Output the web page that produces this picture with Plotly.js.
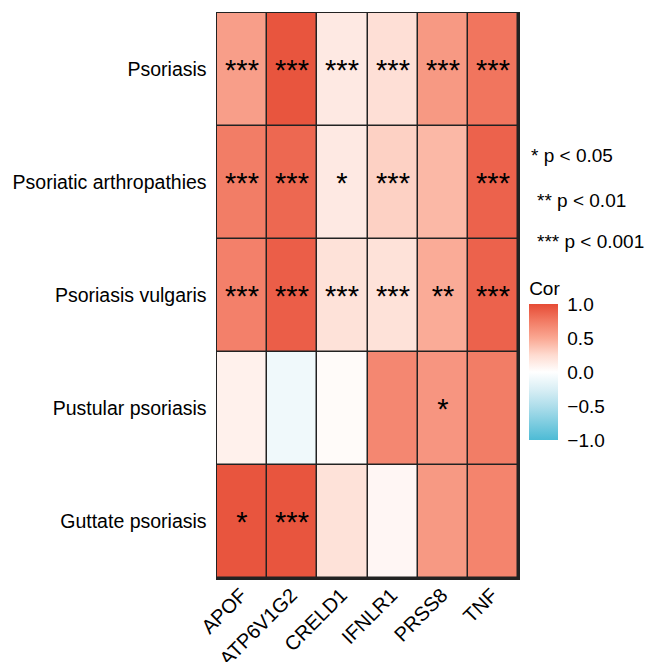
<!DOCTYPE html>
<html><head><meta charset="utf-8">
<script src="https://cdn.plot.ly/plotly-3.0.1.min.js"></script>
<style>html,body{margin:0;padding:0;background:#fff}</style>
</head><body><div id="chart" style="width:647px;height:662px"></div>
<script>
const genes = ["APOF","ATP6V1G2","CRELD1","IFNLR1","PRSS8","TNF"];
const diseases = ["Guttate psoriasis","Pustular psoriasis","Psoriasis vulgaris","Psoriatic arthropathies","Psoriasis"];
// correlation values per disease (rows, bottom to top), columns = genes
const corGuttate   = [0.95, 0.95, 0.20, 0.06, 0.58, 0.70];
const corPustular  = [0.10, -0.10, 0.03, 0.68, 0.60, 0.74];
const corVulgaris  = [0.72, 0.90, 0.20, 0.20, 0.48, 0.88];
const corArthro    = [0.74, 0.85, 0.15, 0.30, 0.42, 0.88];
const corPsoriasis = [0.55, 0.95, 0.15, 0.22, 0.58, 0.78];
const sigGuttate   = ["*","***","","","",""];
const sigPustular  = ["","","","","*",""];
const sigVulgaris  = ["***","***","***","***","**","***"];
const sigArthro    = ["***","***","*","***","","***"];
const sigPsoriasis = ["***","***","***","***","***","***"];
const cbTickVals = [1, 0.5, 0, -0.5, -1];
const cbTickText = ["1.0","0.5","0.0","\u22120.5","\u22121.0"];
const legendLines = ["* p < 0.05","** p < 0.01","*** p < 0.001"];

const z = [corGuttate, corPustular, corVulgaris, corArthro, corPsoriasis];
const txt = [sigGuttate, sigPustular, sigVulgaris, sigArthro, sigPsoriasis];
const font = "Liberation Sans, Arial, sans-serif";

const trace = {
  type: "heatmap", x: genes, y: diseases, z: z, text: txt,
  texttemplate: "%{text}", textfont: {size: 29, color: "black", family: font},
  zmin: -1, zmax: 1, xgap: 1.5, ygap: 1.5,
  colorscale: [[0, "rgb(77,187,213)"], [0.25, "rgb(175,222,235)"], [0.375, "rgb(218,239,245)"],
               [0.5, "rgb(255,255,255)"], [0.625, "rgb(254,219,208)"], [0.75, "rgb(250,167,146)"],
               [0.875, "rgb(242,123,100)"], [1, "rgb(230,75,53)"]],
  hoverinfo: "skip",
  colorbar: {
    x: 1.037, xanchor: "left", xpad: 0, ypad: 0,
    y: 0.3876, yanchor: "middle",
    thickness: 29, thicknessmode: "pixels", len: 162, lenmode: "pixels",
    outlinewidth: 0,
    tickvals: cbTickVals, ticktext: cbTickText,
    ticks: "outside", ticklen: 6, tickcolor: "rgba(0,0,0,0)", tickwidth: 1,
    tickfont: {size: 19, family: font, color: "black"},
    title: {text: "Cor", side: "top", font: {size: 19, family: font, color: "black"}}
  }
};

const annotations = legendLines.map((t, i) => ({
  text: t, xref: "paper", yref: "paper",
  x: i === 0 ? 1.035 : 1.055, xanchor: "left",
  y: [0.747, 0.669, 0.595][i], yanchor: "middle",
  showarrow: false, font: {size: 19, family: font, color: "black"}
}));

const layout = {
  width: 647, height: 662,
  margin: {l: 217, r: 129, t: 13, b: 84},
  paper_bgcolor: "white", plot_bgcolor: "#222",
  xaxis: {tickangle: -45, tickfont: {size: 20, family: font, color: "black"},
          ticklabelshift: -1, ticklabelstandoff: -4,
          showline: true, linecolor: "#222", linewidth: 1.5, mirror: true,
          ticks: "", showgrid: false, zeroline: false},
  yaxis: {tickfont: {size: 19.5, family: font, color: "black"}, ticklabelstandoff: 5,
          showline: true, linecolor: "#222", linewidth: 1.5, mirror: true,
          ticks: "", ticklen: 0, showgrid: false, zeroline: false},
  annotations: annotations
};
Plotly.newPlot("chart", [trace], layout, {displayModeBar: false, staticPlot: true});
</script></body></html>
